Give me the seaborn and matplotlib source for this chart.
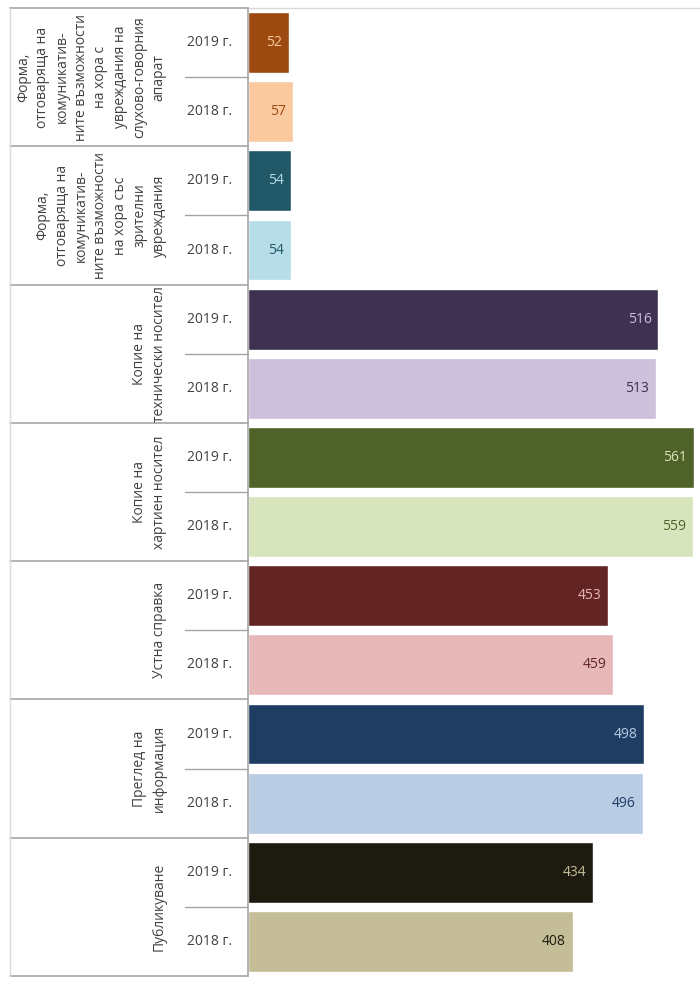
import pandas as pd
import matplotlib.pyplot as plt
import seaborn as sns

# ── DATA ──────────────────────────────────────────────────────────────────────
GROUPS = [
    "Форма,\nотговаряща на\nкомуникатив-\nните възможности\nна хора с\nувреждания на\nслухово-говорния\nапарат",
    "Форма,\nотговаряща на\nкомуникатив-\nните възможности\nна хора със\nзрителни\nувреждания",
    "Копие на\nтехнически носител",
    "Копие на\nхартиен носител",
    "Устна справка",
    "Преглед на\nинформация",
    "Публикуване",
]
YEARS = ["2019 г.", "2018 г."]
V2019 = [52, 54, 516, 561, 453, 498, 434]
V2018 = [57, 54, 513, 559, 459, 496, 408]

DARK  = ["#9c4a0f", "#215868", "#3f3151", "#4f6228", "#632523", "#1f3c63", "#1d1b10"]
LIGHT = ["#fac9a0", "#b7dde8", "#ccc0da", "#d7e4bc", "#e6b9b8", "#b8cce4", "#c4bd97"]

# long table: one row per bar, top to bottom (2019 then 2018 in each group)
rows, vals, cols, txtcol = [], [], [], []
for g in range(len(GROUPS)):
    rows += [f"{g}-{YEARS[0]}", f"{g}-{YEARS[1]}"]
    vals += [V2019[g], V2018[g]]
    cols += [DARK[g], LIGHT[g]]
    txtcol += [LIGHT[g], DARK[g]]
df = pd.DataFrame({"row": rows, "value": vals})

sns.set_theme(style="white")
plt.rcParams["font.family"] = ["Open Sans", "DejaVu Sans"]

fig = plt.figure(figsize=(7, 9.85), dpi=100)
ax = fig.add_axes([248 / 700, 9 / 985, 447 / 700, 968 / 985])

sns.barplot(data=df, y="row", x="value", hue="row", palette=cols,
            orient="h", width=0.88, legend=False, ax=ax, saturation=1)

ax.set_xlim(0, 562)
ax.set_ylim(len(rows) - 0.5, -0.5)
ax.set_xticks([]); ax.set_yticks([])
ax.set_xlabel(""); ax.set_ylabel("")
for s in ["top", "right", "bottom"]:
    ax.spines[s].set_visible(False)
ax.spines["left"].set_color("#a6a6a6")
ax.spines["left"].set_linewidth(1.2)

# value labels inside the bar end
for i, (v, tc) in enumerate(zip(vals, txtcol)):
    ax.annotate(str(v), xy=(v, i), xytext=(-5, 0), textcoords="offset points",
                ha="right", va="center", fontsize=10, color=tc)

ytr = ax.get_yaxis_transform()
left = -238 / 447
mid = -63 / 447
grid = "#a6a6a6"

# year labels + inner separators
for i, r in enumerate(rows):
    ax.text(-0.085, i, r.split("-")[1], transform=ytr, ha="center", va="center",
            fontsize=10, color="#404040")
for g in range(len(GROUPS)):
    ax.plot([mid, 0], [2 * g + 0.5] * 2, transform=ytr, color=grid, lw=1, clip_on=False)

# group labels + group separators
for g, name in enumerate(GROUPS):
    ax.text(-0.182, 2 * g + 0.5, name, transform=ytr, rotation=90, ha="right",
            va="center", multialignment="center", fontsize=10, color="#404040",
            linespacing=1.4)
for b in range(len(GROUPS) + 1):
    ax.plot([left, 0], [2 * b - 0.5] * 2, transform=ytr, color=grid, lw=1.2, clip_on=False)

# outer frame
ax.plot([left, left], [-0.5, len(rows) - 0.5], transform=ytr, color="#d9d9d9",
        lw=1, clip_on=False)
ax.plot([0, 1.01], [-0.5, -0.5], transform=ytr, color="#d9d9d9", lw=1, clip_on=False)

fig.savefig("out.png", dpi=100, facecolor="white")
